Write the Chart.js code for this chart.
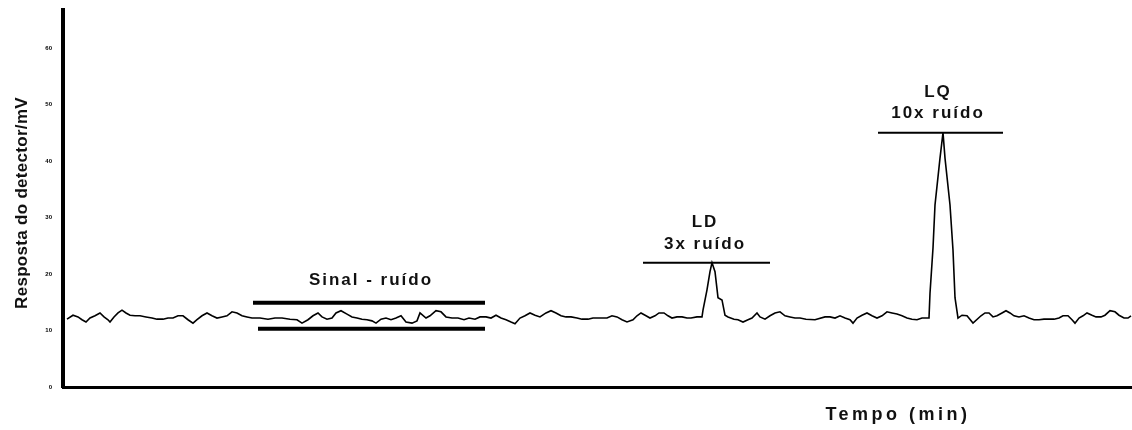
<!DOCTYPE html>
<html lang="pt">
<head>
  <meta charset="UTF-8">
  <title>Sinal - ruído, LD e LQ</title>
  <script src="https://cdn.jsdelivr.net/npm/chart.js"></script>
  <style>
    html, body {
      margin: 0;
      padding: 0;
      background: #fff;
    }
    .wrap {
      position: relative;
      width: 1132px;
      height: 430px;
    }
  </style>
</head>
<body>
  <div class="wrap">
    <canvas id="chart"></canvas>
  </div>

  <script>
    const tempo = [
      0.08, 0.20, 0.30, 0.38, 0.46, 0.54, 0.64, 0.74, 0.82, 0.90, 0.94, 1.02, 1.10, 1.18, 1.26, 1.34, 1.44, 1.54, 1.66, 1.78,
      1.88, 2.00, 2.10, 2.20, 2.30, 2.40, 2.50, 2.60, 2.68, 2.78, 2.88, 2.98, 3.08, 3.18, 3.28, 3.38, 3.48,
      3.58, 3.68, 3.78, 3.94, 4.10, 4.24, 4.38, 4.54, 4.68, 4.78, 4.90, 5.00, 5.10, 5.18, 5.28, 5.38, 5.46, 5.56, 5.68,
      5.78, 5.88, 5.98, 6.08, 6.18, 6.26, 6.36, 6.46, 6.56, 6.66, 6.76, 6.86, 6.98, 7.08,
      7.14, 7.26, 7.34, 7.46, 7.56, 7.66, 7.78, 7.90, 8.02, 8.12, 8.24, 8.34, 8.46, 8.56, 8.66, 8.76, 8.86, 8.96, 9.04,
      9.14, 9.24, 9.34, 9.44, 9.54, 9.66, 9.76, 9.86, 9.96, 10.06, 10.16, 10.28, 10.38, 10.50, 10.60, 10.70,
      10.80, 10.88, 10.98, 11.08, 11.18, 11.28, 11.40, 11.48, 11.56, 11.66, 11.74, 11.84, 11.92, 12.02, 12.10, 12.18,
      12.28, 12.38, 12.48, 12.56, 12.68,
      12.78, 12.80, 12.88, 12.94, 12.98, 13.04, 13.10, 13.18, 13.24, 13.30, 13.42, 13.50, 13.60, 13.70, 13.78, 13.88,
      13.94, 14.04, 14.14, 14.24, 14.34,
      14.44, 14.54, 14.64, 14.74, 14.86, 15.04, 15.24, 15.34, 15.44, 15.54, 15.64, 15.74, 15.80, 15.88, 15.98, 16.08,
      16.18, 16.28, 16.38, 16.48, 16.58, 16.68, 16.78, 16.88, 16.98, 17.08, 17.18, 17.28,
      17.32, 17.34, 17.40, 17.44, 17.54, 17.60, 17.64, 17.74, 17.80, 17.84, 17.90, 17.98, 18.08, 18.20,
      18.36, 18.44, 18.52, 18.60, 18.68, 18.78, 18.86, 18.94, 19.02, 19.12, 19.22, 19.32, 19.42, 19.52, 19.62, 19.72,
      19.82, 19.92, 20.00, 20.10, 20.18, 20.24, 20.32, 20.40, 20.48, 20.58, 20.66, 20.76, 20.84, 20.94, 21.04, 21.12,
      21.22, 21.30, 21.36
    ];
    const resposta = [
      12.0, 12.7, 12.4, 11.9, 11.5, 12.2, 12.6, 13.1, 12.4, 11.9, 11.5, 12.4, 13.1, 13.6, 13.1, 12.7, 12.6, 12.6, 12.4, 12.2,
      12.0, 12.0, 12.2, 12.2, 12.6, 12.6, 11.9, 11.3, 11.9, 12.6, 13.1, 12.6, 12.2, 12.4, 12.6, 13.3, 13.1,
      12.6, 12.4, 12.2, 12.2, 12.0, 12.2, 12.2, 12.0, 11.9, 11.3, 11.9, 12.6, 13.1, 12.4, 12.0, 12.2, 13.1, 13.5, 12.9,
      12.4, 12.2, 12.0, 11.9, 11.7, 11.3, 12.0, 12.2, 11.9, 12.2, 12.6, 11.5, 11.3, 11.7,
      13.1, 12.2, 12.6, 13.5, 13.3, 12.4, 12.2, 12.2, 11.9, 12.2, 12.0, 12.4, 12.4, 12.2, 12.7, 12.2, 11.9, 11.5, 11.2,
      12.2, 12.6, 13.1, 12.7, 12.4, 13.1, 13.5, 13.1, 12.6, 12.4, 12.4, 12.2, 12.0, 12.0, 12.2, 12.2,
      12.2, 12.2, 12.6, 12.4, 11.9, 11.5, 11.9, 12.6, 13.1, 12.6, 12.2, 12.6, 13.1, 13.1, 12.6, 12.2,
      12.4, 12.4, 12.2, 12.2, 12.4,
      12.4, 13.6, 17.2, 20.4, 22.0, 20.4, 15.8, 15.4, 12.7, 12.4, 12.0, 11.9, 11.5, 11.9, 12.2, 13.1,
      12.4, 12.0, 12.6, 13.1, 13.3,
      12.6, 12.4, 12.2, 12.2, 12.0, 11.9, 12.4, 12.4, 12.2, 12.6, 12.2, 11.9, 11.3, 12.2, 12.7, 13.1,
      12.6, 12.2, 12.6, 13.3, 13.1, 12.9, 12.6, 12.2, 12.0, 11.9, 12.2, 12.2,
      12.2, 16.6, 24.6, 32.2, 40.5, 45.0, 40.5, 32.2, 24.2, 15.8, 12.2, 12.7, 12.6, 11.3,
      12.6, 13.1, 13.1, 12.4, 12.6, 13.1, 13.5, 13.1, 12.6, 12.4, 12.6, 12.2, 11.9, 11.9, 12.0, 12.0,
      12.0, 12.2, 12.6, 12.6, 11.9, 11.3, 12.2, 12.6, 13.1, 12.7, 12.4, 12.4, 12.7, 13.5, 13.3, 12.7,
      12.2, 12.2, 12.6
    ];

    // faixas horizontais: [inicio, fim, nivel]
    const ruidoSuperior = [3.80, 8.44, 14.9];
    const ruidoInferior = [3.90, 8.44, 10.3];
    const linhaLD = [11.60, 14.14, 22.0];
    const linhaLQ = [16.30, 18.80, 45.0];

    const yTicks = [0, 10, 20, 30, 40, 50, 60];
    const xMax = 21.38;
    const yMax = 66.7;

    // rótulos de texto, posicionados em unidades do gráfico
    const rotulos = [
      { texto: 'Sinal - ruído', x: 6.16, y: 18.9 },
      { texto: 'LD', x: 12.84, y: 29.1 },
      { texto: '3x ruído', x: 12.84, y: 25.3 },
      { texto: 'LQ', x: 17.50, y: 52.2 },
      { texto: '10x ruído', x: 17.50, y: 48.5 }
    ];

    function faixa(f, largura) {
      return {
        data: [{ x: f[0], y: f[2] }, { x: f[1], y: f[2] }],
        borderColor: '#000',
        borderWidth: largura,
        pointRadius: 0,
        borderCapStyle: 'butt'
      };
    }

    const textos = {
      id: 'textos',
      afterDatasetsDraw(chart) {
        const c = chart.ctx;
        const xs = chart.scales.x;
        const ys = chart.scales.y;
        c.save();
        c.fillStyle = '#111';
        c.textAlign = 'center';
        c.textBaseline = 'middle';
        c.font = 'bold 17px "Liberation Sans", Arial, sans-serif';
        c.letterSpacing = '2px';
        rotulos.forEach(r => {
          c.fillText(r.texto, xs.getPixelForValue(r.x), ys.getPixelForValue(r.y));
        });

        // titulo do eixo x
        c.font = 'bold 18px "Liberation Sans", Arial, sans-serif';
        c.letterSpacing = '3.5px';
        c.fillText('Tempo (min)', 898, 415);

        // titulo do eixo y
        c.translate(22, 203);
        c.rotate(-Math.PI / 2);
        c.font = 'bold 17px "Liberation Sans", Arial, sans-serif';
        c.letterSpacing = '0.3px';
        c.fillText('Resposta do detector/mV', 0, 0);
        c.restore();
      }
    };

    new Chart(document.getElementById('chart'), {
      type: 'line',
      data: {
        datasets: [
          {
            data: tempo.map((t, i) => ({ x: t, y: resposta[i] })),
            borderColor: '#000',
            borderWidth: 1.6,
            pointRadius: 0,
            tension: 0
          },
          faixa(ruidoSuperior, 4),
          faixa(ruidoInferior, 4),
          faixa(linhaLD, 2),
          faixa(linhaLQ, 2)
        ]
      },
      options: {
        responsive: true,
        maintainAspectRatio: false,
        animation: false,
        layout: { padding: { top: 10, right: 0, left: 0, bottom: 0 } },
        plugins: {
          legend: { display: false },
          tooltip: { enabled: false }
        },
        scales: {
          x: {
            type: 'linear',
            min: 0,
            max: xMax,
            grid: { display: false },
            border: { display: true, color: '#000', width: 3 },
            ticks: { display: false },
            afterFit(scale) { scale.height = 43; }
          },
          y: {
            min: 0,
            max: yMax,
            grid: { display: false },
            border: { display: true, color: '#000', width: 4 },
            afterBuildTicks(scale) { scale.ticks = yTicks.map(v => ({ value: v })); },
            ticks: {
              color: '#000',
              padding: 3,
              font: { size: 6, weight: 'bold', family: 'Arial' }
            },
            afterFit(scale) { scale.width = 63; }
          }
        }
      },
      plugins: [textos]
    });
  </script>
</body>
</html>
